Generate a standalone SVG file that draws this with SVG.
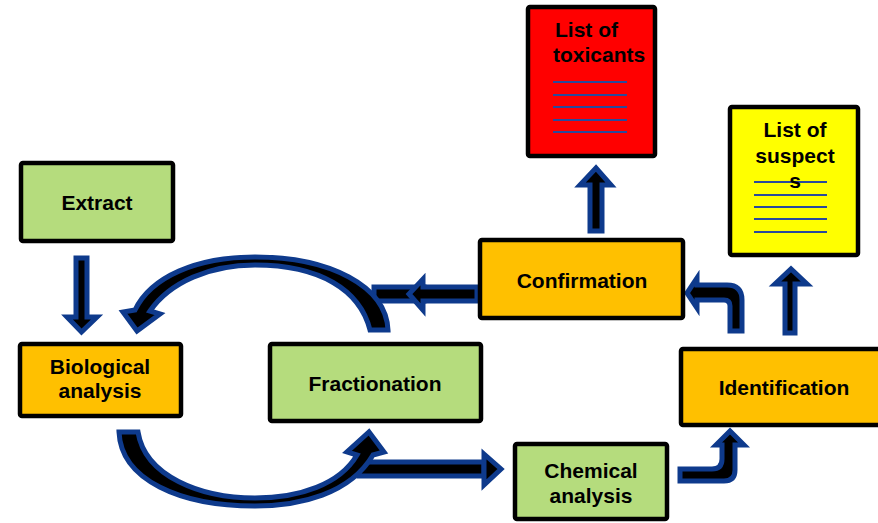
<svg xmlns="http://www.w3.org/2000/svg" width="878" height="523" viewBox="0 0 878 523">
<style>
.box{stroke:#000;stroke-width:4.5}
.g{fill:#B5DC7D}.o{fill:#FFC000}.r{fill:#FF0000}.y{fill:#FFFF00}
.t{font-family:"Liberation Sans",Arial,sans-serif;font-weight:bold;font-size:21px;fill:#000;text-anchor:middle}
.lt{font-family:"Liberation Sans",Arial,sans-serif;font-weight:bold;font-size:21px;fill:#000}
.ln{stroke:#2A4A9C;stroke-width:2}
.a{fill:#000;stroke:#0E3A8C;stroke-width:5;stroke-linejoin:miter}
</style>
<rect width="878" height="523" fill="#fff"/>
<g id="connectors">
<polygon class="a" points="76,258 87,258 87,317 97,317 81.5,332 67,317 76,317"/>
<rect class="a" x="374" y="287" width="50" height="14"/>
<path class="a" d="M477,287 L423,287 L423,279 L409,294 L423,310 L423,301 L477,301 Z"/>
<path class="a" d="M388,330 C386,286 330,257 255,257 C196,257 151,277 135,310 L123,312 L137,331 L160,314 L150,311 C170,282 210,265 255,265 C320,265 360,290 370,330 Z"/>
<rect class="a" x="359" y="462" width="125" height="14"/>
<polygon class="a" points="484,454 501,469 484,485"/>
<path class="a" d="M119,432 L138,432 C145,476 200,498 255,498 C300,498 340,484 357,455 L347,452 L369,432 L384,452 L373,455 C350,494 300,506 255,506 C180,506 121,480 119,432 Z"/>
<path class="a" d="M680,469 L712,469 Q722,469 722,459 L722,445 L716,445 L730,431 L744,445 L735,445 L735,470 Q735,481 724,481 L680,481 Z"/>
<path class="a" d="M742,331 L742,300 Q742,285 727,285 L697,285 L697,278 L687,293 L697,308 L697,300 L724,300 Q730,300 730,306 L730,331 Z"/>
<polygon class="a" points="590,231 602,231 602,185 611,185 596,168 580,185 590,185"/>
<polygon class="a" points="785,333 795,333 795,284 807,284 791,269 775,284 785,284"/>
</g>
<g id="extract"><rect class="box g" x="21" y="163" width="152" height="78" rx="2"/><text class="t" x="97" y="210">Extract</text></g>
<g id="biological"><rect class="box o" x="20" y="344" width="161" height="72" rx="2"/><text class="t" x="100" y="374">Biological</text><text class="t" x="100" y="398">analysis</text></g>
<g id="fractionation"><rect class="box g" x="270" y="344" width="211" height="77" rx="2"/><text class="t" x="375" y="391">Fractionation</text></g>
<g id="chemical"><rect class="box g" x="515" y="444" width="152" height="75" rx="2"/><text class="t" x="591" y="478">Chemical</text><text class="t" x="591" y="503">analysis</text></g>
<g id="identification"><rect class="box o" x="681" y="349" width="200" height="76" rx="2"/><text class="t" x="784" y="395">Identification</text></g>
<g id="confirmation"><rect class="box o" x="480" y="240" width="203" height="78" rx="2"/><text class="t" x="582" y="288">Confirmation</text></g>
<g id="toxicants"><rect class="box r" x="528" y="7" width="127" height="149" rx="2"/>
<text class="lt" x="555" y="37">List of</text><text class="lt" x="553" y="62">toxicants</text>
<line class="ln" x1="553" y1="82" x2="627" y2="82"/><line class="ln" x1="553" y1="95" x2="627" y2="95"/><line class="ln" x1="553" y1="107" x2="627" y2="107"/><line class="ln" x1="553" y1="120" x2="627" y2="120"/><line class="ln" x1="553" y1="132" x2="627" y2="132"/></g>
<g id="suspects"><rect class="box y" x="730" y="107" width="128" height="148" rx="2"/>
<line class="ln" x1="754" y1="182" x2="827" y2="182"/><line class="ln" x1="754" y1="195" x2="827" y2="195"/><line class="ln" x1="754" y1="207" x2="827" y2="207"/><line class="ln" x1="754" y1="219" x2="827" y2="219"/><line class="ln" x1="754" y1="232" x2="827" y2="232"/>
<text class="lt" x="795" y="137" text-anchor="middle">List of</text><text class="lt" x="795" y="163" text-anchor="middle">suspect</text><text class="lt" x="795" y="188" text-anchor="middle">s</text></g>
</svg>
